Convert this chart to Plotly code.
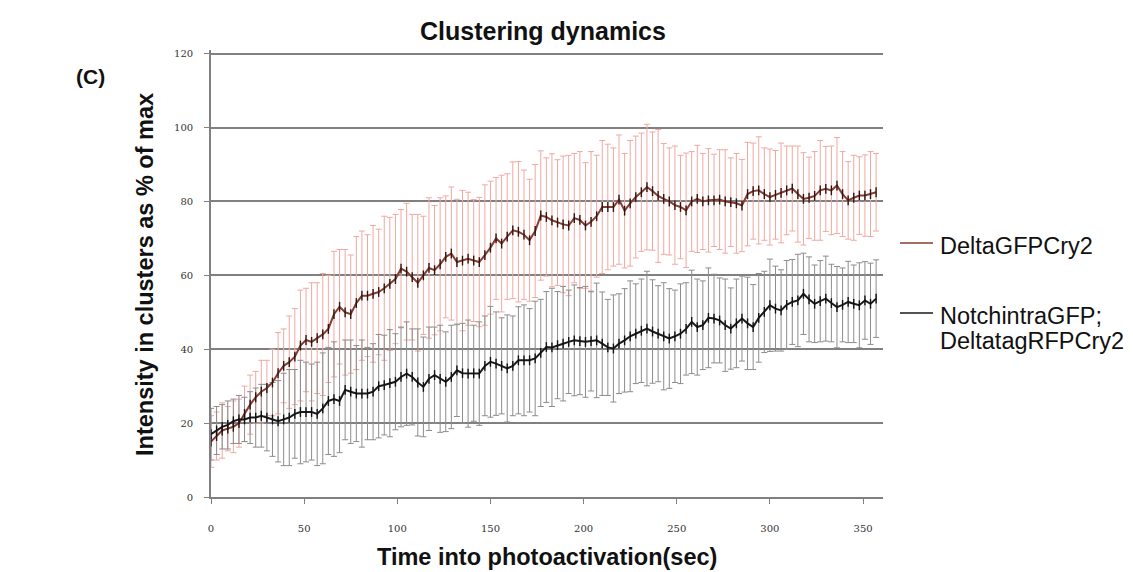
import plotly.graph_objects as go

# ---------------- data ----------------
time_s = list(range(0, 360, 3))

delta_mean = [
    15, 16.5, 18, 18.5, 19, 20,
    22.5, 25, 27, 28.5, 29.5, 31,
    33.5, 35.5, 36.5, 38, 41, 42.5,
    42, 43, 44, 45.5, 49.5, 51.5,
    50, 49.5, 52.5, 54.5, 54.5, 55,
    55.5, 56.5, 57.7, 59, 61.8, 61,
    59.5, 58, 60, 62, 61.4, 63,
    65, 65.9, 63.6, 64, 64.5, 64,
    63.6, 65.5, 67.5, 70, 68.6, 70.5,
    72.2, 71.8, 71, 69.5, 72, 76.2,
    75.8, 74.9, 74.3, 73.8, 73.5, 75.5,
    75, 73.5, 74.5, 76, 78.5, 78.5,
    78.5, 80.5, 77.5, 79.5, 81.2, 82.5,
    83.9, 82.8, 81.5, 80.7, 80, 79,
    78.5, 77.6, 80, 80.7, 80, 80.3,
    80.3, 80.5, 80, 79.8, 79.5, 78.9,
    82, 82.8, 83, 82, 81.2, 81.8,
    82.3, 83, 83.5, 82, 80.7, 81,
    81.5, 83, 83.4, 83, 84.3, 82,
    80.3, 81, 81.6, 81.6, 82, 82.5,
]
delta_err = [
    7, 6.5, 7.5, 6, 7, 6.5,
    7.5, 8, 7, 8.5, 7.5, 9,
    11, 10, 12.5, 13, 15, 14,
    16, 15, 16.5, 14.5, 17, 15.5,
    17, 16, 18, 17.5, 16.5, 18.5,
    17, 19.5, 18, 17.5, 16, 18.5,
    17, 18.5, 16, 19, 17.5, 18,
    16.5, 18, 17, 19, 18, 16.5,
    17.5, 19, 18, 16.5, 18.5, 17,
    18.5, 19, 17.5, 16.5, 18, 17.5,
    16, 18, 17, 18.5, 19, 17.5,
    18.5, 17, 19, 16.5, 18, 17,
    16, 17.5, 15.5, 17, 16.5, 16,
    17, 16, 18, 15, 14.5, 16,
    14, 15.5, 13.5, 14.5, 13, 14,
    12.5, 13.5, 14, 12, 13.5, 12.5,
    14, 13, 14.5, 12.5, 13, 12,
    13.5, 12, 11.5, 13, 12.5, 11,
    12, 13.5, 11.5, 12, 13, 11.5,
    10.5, 11.5, 10.5, 11, 11.5, 10.5,
]

notch_mean = [
    17, 18, 19, 19.5, 20.5, 21,
    21, 21.5, 21.5, 22, 21.5, 21,
    20.5, 21, 21.5, 22.5, 23, 23,
    23, 22.5, 24, 26, 26.5, 26,
    29, 28.5, 28, 28, 28, 28.5,
    30, 30.3, 30.8, 31.2, 32.5, 33.4,
    32.5, 31, 29.8, 32, 33, 32,
    31.2, 32.5, 34.3, 33.5, 33.4, 33.5,
    33.4, 35.5, 36.6, 36.1, 35.5, 34.8,
    35.5, 37, 37, 37, 37.5, 39,
    40.6, 40.5, 41.1, 41.5, 42, 42.4,
    42.2, 42, 42.2, 42.4, 41.5, 40.5,
    40.2, 41.5, 42.4, 43.5, 44.2, 45,
    45.6, 44.8, 44.2, 43.5, 42.9, 43.5,
    44.2, 45.5, 47.4, 46, 46.5, 48.5,
    48.3, 47.8, 46.5, 45.6, 47, 48.3,
    47, 46, 48.5, 50.1, 51.9, 51,
    50.5, 52, 52.8, 53.2, 55, 53.5,
    52.3, 53, 53.7, 52.5, 51.4, 52,
    52.8, 52.3, 51.9, 53.2, 52.3, 53.7,
]
notch_err = [
    7, 6.5, 6, 6.5, 6, 6.5,
    6, 7, 8, 8.5, 9, 10,
    11, 12.5, 13, 12, 14, 13.5,
    13, 14, 15, 14.5, 15.5, 14,
    13.5, 14, 13, 14.5, 12.5, 13,
    14, 13.5, 14.5, 13, 13.5, 14,
    13, 14.5, 13.5, 14, 13, 14.5,
    13.5, 14, 12.5, 13.5, 14.5, 13,
    14, 13.5, 15, 14, 13, 14.5,
    13.5, 14.5, 15, 14, 15.5, 14.5,
    15, 16, 14.5, 15.5, 14, 15,
    14.5, 15, 13.5, 15.5, 14, 13,
    14.5, 13.5, 14, 15, 13.5, 14,
    15.5, 14, 13, 14.5, 13.5, 12.5,
    13.5, 12.5, 14, 13, 12, 13.5,
    12, 11.5, 12.5, 11, 12, 11.5,
    12.5, 11.5, 12, 11, 12.5, 11.5,
    11, 12, 11.5, 12.5, 11, 11.5,
    10.5, 11, 11.5, 10.5, 11, 10,
    11, 10.5, 11.5, 10.5, 11, 10.5,
]

series_names = ["DeltaGFPCry2", "NotchintraGFP;", "DeltatagRFPCry2"]
x_ticks = [0, 50, 100, 150, 200, 250, 300, 350]
y_ticks = [0, 20, 40, 60, 80, 100, 120]

# ---------------- styles ----------------
RED_LINE = "#8a3c32"
RED_ERR = "#f0a8a0"
RED_MARK = "#2e1410"
BLK_LINE = "#1a1a1a"
BLK_ERR = "#8c8c8c"
BLK_MARK = "#111111"
GRID = "#808080"
FONT = "Liberation Sans, Arial, sans-serif"

fig = go.Figure()

# error bars (drawn first, underneath means)
fig.add_trace(go.Scatter(
    x=time_s, y=delta_mean, mode="markers",
    marker=dict(size=1, color="rgba(0,0,0,0)"),
    error_y=dict(type="data", array=delta_err, visible=True,
                 color=RED_ERR, thickness=1, width=3),
    showlegend=False, hoverinfo="skip"))
fig.add_trace(go.Scatter(
    x=time_s, y=notch_mean, mode="markers",
    marker=dict(size=1, color="rgba(0,0,0,0)"),
    error_y=dict(type="data", array=notch_err, visible=True,
                 color=BLK_ERR, thickness=1, width=3),
    showlegend=False, hoverinfo="skip"))

# mean lines with small dark tick markers
fig.add_trace(go.Scatter(
    x=time_s, y=delta_mean, mode="lines+markers", name=series_names[0],
    line=dict(color=RED_LINE, width=2),
    marker=dict(symbol="line-ns-open", size=7, color=RED_MARK,
                line=dict(color=RED_MARK, width=1.4)),
    showlegend=False))
fig.add_trace(go.Scatter(
    x=time_s, y=notch_mean, mode="lines+markers", name=series_names[1] + " " + series_names[2],
    line=dict(color=BLK_LINE, width=2),
    marker=dict(symbol="line-ns-open", size=7, color=BLK_MARK,
                line=dict(color=BLK_MARK, width=1.4)),
    showlegend=False))

# ---------------- geometry (screen px; page body has 8px margin) ----------------
OFF = 8
W, H = 1125, 564
L, R, T, B = 203, 250, 42, 75
pw, ph = W - L - R, H - T - B


def sx(px):
    return (px - OFF - L) / pw


def sy(py):
    return (H - B - (py - OFF)) / ph


def label(text, x, y, size, bold=True, angle=0, anchor="center"):
    return dict(text=("<b>%s</b>" % text) if bold else text,
                x=sx(x), y=sy(y), xref="paper", yref="paper",
                xanchor=anchor, yanchor="middle", showarrow=False,
                textangle=angle, font=dict(size=size, color="#111", family=FONT))


annotations = [
    label("Clustering dynamics", 543, 31, 25),
    label("Time into photoactivation(sec)", 547, 557, 23.5),
    label("Intensity in clusters as % of max", 145, 275, 23.5, angle=-90),
    label("(C)", 90, 76, 21),
    label(series_names[0], 938, 246, 23.5, bold=False, anchor="left"),
    label(series_names[1], 938, 316, 23.5, bold=False, anchor="left"),
    label(series_names[2], 938, 341, 23.5, bold=False, anchor="left"),
]

shapes = [
    dict(type="line", xref="paper", yref="paper", x0=sx(900), x1=sx(933),
         y0=sy(243), y1=sy(243), line=dict(color=RED_LINE, width=1.5)),
    dict(type="line", xref="paper", yref="paper", x0=sx(900), x1=sx(933),
         y0=sy(313), y1=sy(313), line=dict(color=BLK_LINE, width=1.5)),
]

fig.update_layout(
    width=W, height=H, autosize=False,
    margin=dict(l=L, r=R, t=T, b=B, pad=0),
    paper_bgcolor="white", plot_bgcolor="white",
    font=dict(family=FONT, color="#111"),
    showlegend=False,
    xaxis=dict(
        range=[0, 360.7], tickvals=x_ticks, showgrid=False, zeroline=False,
        showline=True, linecolor=GRID, linewidth=1.6,
        ticks="outside", ticklen=5, tickcolor=GRID, tickwidth=1,
        tickfont=dict(size=10, color="#333", family="DejaVu Serif, serif"),
        ticklabelstandoff=16,
    ),
    yaxis=dict(
        range=[0, 121], tickvals=y_ticks, showgrid=True, gridcolor=GRID,
        gridwidth=1.6, zeroline=False, showline=True, linecolor=GRID,
        linewidth=1.6, ticks="outside", ticklen=5, tickcolor=GRID,
        tickfont=dict(size=10, color="#333", family="DejaVu Serif, serif"),
        ticklabelstandoff=9,
    ),
    annotations=annotations,
    shapes=shapes,
)

fig.write_html("out.html")
